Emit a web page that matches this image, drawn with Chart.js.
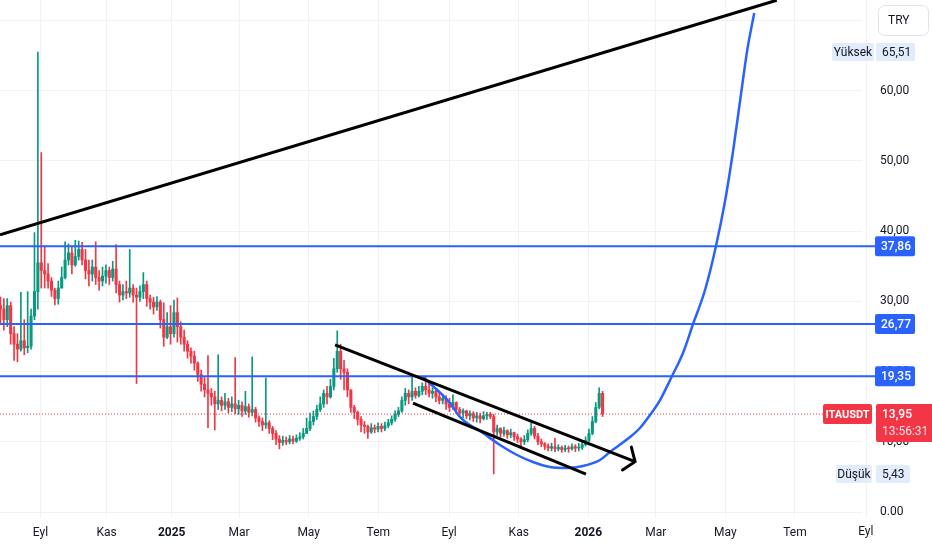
<!DOCTYPE html>
<html>
<head>
<meta charset="utf-8">
<title>ITAUSDT</title>
<script src="https://cdn.jsdelivr.net/npm/chart.js@4.4.1/dist/chart.umd.min.js"></script>
<style>
  html, body { margin: 0; padding: 0; background: #ffffff; }
  #wrap { position: relative; width: 932px; height: 550px; }
</style>
</head>
<body>
<div id="wrap"><canvas id="chart"></canvas></div>
<script>
// x unit = bar index in days (0 = 1 Sep 2024), candles are 3-day bars
const tickDays = [7, 65, 122, 181, 242, 303, 365, 426, 487, 546, 607, 668, 730];
const tickLabels = ['Eyl', 'Kas', '2025', 'Mar', 'May', 'Tem', 'Eyl', 'Kas', '2026', 'Mar', 'May', 'Tem', 'Eyl'];
const priceTicks = [0, 10, 20, 30, 40, 50, 60, 70];

const candleStart = -28;
const candleStep = 2.98;
const firstOpen = 29.4;
const closes = [
  28.9, 27.4, 29.4, 25.4, 23.9, 23.2, 24.4, 23.4, 23.6, 27.9,
  31.4, 35.5, 34.4, 33.9, 32.9, 31.6, 30.4, 31.9, 33.4, 35.9,
  36.9, 35.2, 36.4, 37.4, 35.9, 34.4, 33.9, 34.9, 33.4, 32.9,
  33.6, 34.4, 33.4, 34.6, 32.4, 30.9, 31.4, 31.2, 31.9, 30.9,
  30.6, 31.4, 32.4, 30.4, 29.9, 29.2, 29.9, 27.4, 24.9, 26.4,
  25.4, 28.4, 26.4, 24.9, 23.9, 22.9, 22.2, 21.2, 19.6, 18.2,
  17.4, 16.9, 16.4, 15.4, 15.9, 15.2, 15.7, 14.9, 15.4, 14.7,
  15.2, 14.4, 15.0, 14.2, 14.6, 13.4, 12.9, 12.4, 12.7, 11.9,
  11.2, 10.4, 9.9, 10.2, 10.0, 10.4, 10.1, 10.5, 10.7, 11.2,
  11.9, 12.9, 13.6, 14.6, 15.4, 16.9, 16.4, 17.9, 20.4, 22.9,
  20.4, 19.9, 17.4, 14.9, 14.2, 13.2, 12.4, 12.2, 11.4, 12.0,
  11.8, 12.2, 11.9, 12.3, 12.7, 13.2, 13.9, 14.4, 15.9, 16.9,
  16.4, 17.2, 16.6, 17.2, 17.9, 17.4, 16.9, 17.2, 16.4, 15.9,
  16.2, 15.4, 14.9, 15.6, 14.6, 14.1, 14.4, 13.7, 14.0, 13.4,
  13.7, 13.3, 13.7, 13.9, 13.6, 11.4, 11.9, 11.2, 11.6, 11.0,
  11.3, 10.7, 10.4, 10.0, 10.3, 11.2, 11.9, 10.8, 10.0, 9.7,
  9.4, 9.1, 9.3, 9.0, 9.2, 8.9, 9.1, 9.0, 9.3, 9.1,
  9.2, 9.6, 10.2, 11.2, 12.9, 14.9, 16.9, 13.95
];
const highs = [
  30.6, 30.4, 30.4, 29.9, 26.4, 25.4, 31.3, 27.4, 31.4, 28.9,
  39.8, 65.51, 51.2, 37.9, 35.4, 33.4, 31.9, 32.9, 34.9, 38.5,
  38.2, 37.9, 38.7, 38.6, 38.4, 37.4, 35.9, 35.9, 38.5, 34.4,
  34.9, 35.2, 34.9, 35.7, 38.1, 32.9, 32.4, 32.9, 37.4, 32.4,
  31.9, 32.2, 34.1, 32.9, 30.9, 30.6, 30.7, 30.2, 29.8, 28.4,
  29.4, 30.2, 30.5, 27.1, 25.9, 24.4, 23.4, 22.9, 21.4, 20.2,
  19.2, 22.3, 17.6, 17.2, 22.4, 16.4, 16.9, 16.2, 16.4, 22.0,
  15.9, 15.7, 17.2, 15.4, 22.1, 14.9, 13.7, 13.4, 19.1, 13.0,
  12.2, 11.6, 10.9, 10.8, 10.7, 10.9, 10.8, 11.0, 11.3, 11.9,
  13.4, 14.1, 14.4, 15.2, 16.4, 17.4, 17.9, 18.9, 21.9, 25.8,
  23.9, 21.6, 20.4, 17.4, 15.2, 14.4, 13.6, 12.9, 12.4, 12.6,
  12.4, 12.7, 12.6, 12.8, 13.2, 13.7, 14.4, 14.9, 16.4, 17.6,
  17.4, 19.5, 17.7, 17.9, 18.4, 19.3, 18.4, 17.7, 17.4, 17.2,
  16.8, 16.6, 16.2, 16.7, 15.7, 14.9, 14.7, 14.5, 14.4, 14.3,
  14.2, 14.1, 14.3, 14.2, 14.2, 13.9, 12.4, 12.0, 12.1, 11.7,
  11.8, 11.4, 11.1, 10.6, 10.9, 11.7, 12.8, 12.2, 11.2, 10.4,
  9.9, 9.7, 9.8, 10.5, 9.6, 9.4, 9.5, 9.4, 9.7, 9.6,
  9.8, 10.0, 10.7, 11.8, 13.6, 15.6, 17.7, 17.2
];
const lows = [
  26.9, 25.9, 26.4, 23.9, 21.6, 21.4, 22.9, 22.4, 22.7, 23.2,
  27.4, 28.9, 31.9, 31.9, 31.9, 30.7, 29.5, 29.6, 31.9, 33.2,
  35.2, 33.9, 35.0, 35.9, 35.2, 33.2, 32.2, 32.9, 32.4, 31.6,
  32.2, 32.6, 32.4, 32.9, 31.2, 29.9, 30.2, 30.4, 30.6, 29.9,
  18.3, 30.0, 30.4, 29.3, 28.9, 28.2, 28.7, 26.2, 23.6, 24.7,
  23.9, 24.9, 24.2, 23.9, 22.9, 21.9, 21.2, 20.2, 18.6, 17.2,
  16.4, 12.0, 15.2, 11.7, 14.6, 14.4, 14.6, 14.1, 14.3, 14.0,
  13.9, 13.6, 13.9, 13.5, 13.7, 12.8, 12.2, 11.6, 11.9, 11.2,
  10.3, 9.6, 9.0, 9.5, 9.6, 9.7, 9.7, 9.9, 10.2, 10.4,
  11.2, 11.6, 12.4, 13.2, 14.3, 14.9, 15.4, 16.2, 17.4, 19.9,
  18.9, 17.4, 16.4, 14.2, 13.3, 12.4, 11.4, 11.2, 10.5, 11.2,
  11.3, 11.4, 11.4, 11.6, 12.0, 12.4, 12.9, 13.6, 14.2, 15.2,
  15.4, 15.9, 16.2, 16.4, 16.7, 16.7, 16.4, 16.2, 15.7, 15.4,
  15.4, 14.6, 14.3, 14.6, 14.0, 13.6, 13.4, 13.3, 13.1, 12.9,
  12.8, 12.7, 13.1, 13.2, 13.3, 5.43, 10.9, 10.7, 10.8, 10.5,
  10.6, 10.2, 9.9, 9.4, 9.6, 10.0, 10.9, 10.4, 9.6, 9.3,
  8.9, 8.7, 8.7, 8.6, 8.7, 8.5, 8.6, 8.5, 8.8, 8.6,
  8.7, 8.9, 9.4, 10.0, 11.0, 12.7, 14.7, 13.6
];

// drawn levels and annotations (price units)
const levels = [37.86, 26.77, 19.35];
const lastPrice = 13.95;
const dayHigh = 65.51;
const dayLow = 5.43;
const trendX = [-28.4, 652];
const trendY = [39.5, 72.9];
const chanUpX = [265.1, 527.9];
const chanUpY = [23.8, 7.17];
const chanLoX = [333.4, 484.9];
const chanLoY = [15.5, 5.41];
const curveX = [342.1, 365.8, 374.6, 394.7, 409.6, 424.5, 438.5, 453.4, 468.3, 482.3, 497.2, 505.9, 523.5, 532.2, 541.0, 549.8, 560.3, 569.9, 578.7, 589.2, 598.8, 606.9, 613.9, 620.0, 626.2, 632.3];
const curveY = [19.23, 15.53, 13.53, 11.25, 9.54, 8.12, 7.12, 6.41, 6.27, 6.55, 7.41, 8.55, 10.68, 11.97, 13.82, 15.95, 19.37, 22.65, 26.78, 31.62, 37.89, 44.44, 51.57, 58.69, 65.81, 71.08];

const UP = '#089981';
const DOWN = '#f23645';
const BLUE = '#2962ff';
const TXT = '#131722';
const GRID = '#f0f2f6';
const X_MIN = -28.4, X_MAX = 726.7;
const Y_MIN = -0.71, Y_MAX = 72.93;

const opens = closes.map((c, i) => i === 0 ? firstOpen : closes[i - 1]);
const xs = closes.map((c, i) => candleStart + i * candleStep);
const colors = closes.map((c, i) => c >= opens[i] ? UP : DOWN);

const pts = (ax, ay) => ax.map((x, i) => ({ x: x, y: ay[i] }));
const fmt = v => v.toFixed(2).replace('.', ',');

function rrect(ctx, x, y, w, h, r) {
  ctx.beginPath();
  ctx.moveTo(x + r, y);
  ctx.arcTo(x + w, y, x + w, y + h, r);
  ctx.arcTo(x + w, y + h, x, y + h, r);
  ctx.arcTo(x, y + h, x, y, r);
  ctx.arcTo(x, y, x + w, y, r);
  ctx.closePath();
}

const overlay = {
  id: 'overlay',
  afterDraw(chart) {
    const ctx = chart.ctx;
    const sx = chart.scales.x, sy = chart.scales.y;
    const area = chart.chartArea;
    ctx.save();

    // arrow head on upper channel line
    const x0 = sx.getPixelForValue(chanUpX[0]), y0 = sy.getPixelForValue(chanUpY[0]);
    const x1 = sx.getPixelForValue(chanUpX[1]), y1 = sy.getPixelForValue(chanUpY[1]);
    const a = Math.atan2(y1 - y0, x1 - x0);
    ctx.strokeStyle = '#000';
    ctx.lineWidth = 3;
    ctx.lineCap = 'round';
    ctx.beginPath();
    ctx.moveTo(x1 + 15 * Math.cos(a + Math.PI - 0.95), y1 + 15 * Math.sin(a + Math.PI - 0.95));
    ctx.lineTo(x1, y1);
    ctx.lineTo(x1 + 15 * Math.cos(a + Math.PI + 0.95), y1 + 15 * Math.sin(a + Math.PI + 0.95));
    ctx.stroke();

    // last time label and grid line under the price scale
    const ex = sx.getPixelForValue(tickDays[tickDays.length - 1]);
    ctx.strokeStyle = GRID;
    ctx.lineWidth = 1;
    ctx.beginPath();
    ctx.moveTo(Math.round(ex) + 0.5, 0);
    ctx.lineTo(Math.round(ex) + 0.5, area.bottom);
    ctx.stroke();
    ctx.fillStyle = TXT;
    ctx.font = '12px Roboto';
    ctx.textAlign = 'center';
    ctx.textBaseline = 'middle';
    ctx.fillText(tickLabels[tickLabels.length - 1], ex, 532);

    ctx.textAlign = 'left';
    // level tags
    levels.forEach(v => {
      const y = sy.getPixelForValue(v);
      ctx.strokeStyle = BLUE;
      ctx.lineWidth = 2;
      ctx.beginPath();
      ctx.moveTo(area.right, y);
      ctx.lineTo(876, y);
      ctx.stroke();
      ctx.fillStyle = BLUE;
      rrect(ctx, 875, y - 10, 40, 20, 2);
      ctx.fill();
      ctx.fillStyle = '#fff';
      ctx.font = '500 12px Roboto';
      ctx.fillText(fmt(v), 881, y + 1);
    });

    // high / low tags
    [[dayHigh, 'Yüksek', 832, 42, 39], [dayLow, 'Düşük', 836, 36, 34]].forEach(t => {
      const y = sy.getPixelForValue(t[0]);
      ctx.fillStyle = '#e3ecfd';
      rrect(ctx, t[2], y - 9, t[3], 18, 2);
      ctx.fill();
      rrect(ctx, 876, y - 9, t[4], 18, 2);
      ctx.fill();
      ctx.fillStyle = TXT;
      ctx.font = '12px Roboto';
      ctx.textAlign = 'center';
      ctx.fillText(t[1], t[2] + t[3] / 2, y + 1);
      ctx.textAlign = 'left';
      ctx.fillText(fmt(t[0]), 882, y + 1);
    });

    // last price tags
    const yl = sy.getPixelForValue(lastPrice);
    ctx.fillStyle = DOWN;
    rrect(ctx, 823, yl - 10, 49, 20, 2);
    ctx.fill();
    rrect(ctx, 876, yl - 10, 60, 38, 2);
    ctx.fill();
    ctx.fillStyle = '#fff';
    ctx.font = 'bold 11px Roboto';
    ctx.textAlign = 'center';
    ctx.fillText('ITAUSDT', 847.5, yl + 1);
    ctx.textAlign = 'left';
    ctx.font = '500 12px Roboto';
    ctx.fillText(fmt(lastPrice), 882, yl + 1);
    ctx.fillStyle = 'rgba(255,255,255,0.85)';
    ctx.font = '12px Roboto';
    ctx.fillText('13:56:31', 882, yl + 18);

    // currency box
    ctx.fillStyle = '#fff';
    ctx.strokeStyle = '#e0e3eb';
    ctx.lineWidth = 1;
    rrect(ctx, 878.5, 5.5, 50, 30, 6);
    ctx.fill();
    ctx.stroke();
    ctx.fillStyle = TXT;
    ctx.font = '12px Roboto';
    ctx.fillText('TRY', 888, 21);
    ctx.restore();
  }
};

const lineDs = (data, color, width, extra) => Object.assign({
  type: 'line', data: data, borderColor: color, borderWidth: width,
  pointRadius: 0, fill: false, tension: 0, order: 0
}, extra || {});

const datasets = [
  lineDs(pts(trendX, trendY), '#000', 3),
  lineDs(pts(chanUpX, chanUpY), '#000', 3),
  lineDs(pts(chanLoX, chanLoY), '#000', 3),
  lineDs(pts(curveX, curveY), BLUE, 2.5, { cubicInterpolationMode: 'monotone' }),
  ...levels.map(v => lineDs([{ x: X_MIN, y: v }, { x: X_MAX, y: v }], BLUE, 2, { order: 1 })),
  lineDs([{ x: X_MIN, y: lastPrice }, { x: X_MAX, y: lastPrice }], DOWN, 1, { borderDash: [1, 2], order: 2 }),
  {
    type: 'bar', order: 5, grouped: false, barThickness: 2.4, minBarLength: 1,
    data: xs.map((x, i) => ({ x: x, y: [opens[i], closes[i]] })),
    backgroundColor: colors, borderWidth: 0
  },
  {
    type: 'bar', order: 6, grouped: false, barThickness: 1,
    data: xs.map((x, i) => ({ x: x, y: [lows[i], highs[i]] })),
    backgroundColor: colors, borderWidth: 0
  }
];

new Chart(document.getElementById('chart'), {
  type: 'bar',
  data: { datasets: datasets },
  options: {
    responsive: true,
    maintainAspectRatio: false,
    animation: false,
    layout: { padding: 0, autoPadding: false },
    plugins: { legend: { display: false }, tooltip: { enabled: false } },
    scales: {
      x: {
        type: 'linear', min: X_MIN, max: X_MAX, offset: false,
        grid: { color: GRID, drawTicks: false, offset: false },
        border: { display: false },
        afterBuildTicks: s => { s.ticks = tickDays.filter(v => v >= X_MIN && v <= X_MAX).map(v => ({ value: v })); },
        afterFit: s => { s.height = 33; s.paddingLeft = 0; s.paddingRight = 0; },
        ticks: {
          autoSkip: false, maxRotation: 0, padding: 9, color: TXT,
          font: c => ({ family: 'Roboto', size: 12, weight: /^\d{4}$/.test(tickLabels[tickDays.indexOf(c.tick && c.tick.value)]) ? 'bold' : 'normal' }),
          callback: v => tickLabels[tickDays.indexOf(v)]
        }
      },
      y: {
        position: 'right', min: Y_MIN, max: Y_MAX,
        grid: { color: GRID, drawTicks: false },
        border: { display: false },
        afterBuildTicks: s => { s.ticks = priceTicks.map(v => ({ value: v })); },
        afterFit: s => { s.width = 70; s.paddingTop = 0; s.paddingBottom = 0; },
        ticks: {
          padding: 18, color: TXT, font: { family: 'Roboto', size: 12 },
          callback: v => v === 0 ? '0.00' : fmt(v)
        }
      }
    }
  },
  plugins: [overlay]
});
</script>
</body>
</html>
